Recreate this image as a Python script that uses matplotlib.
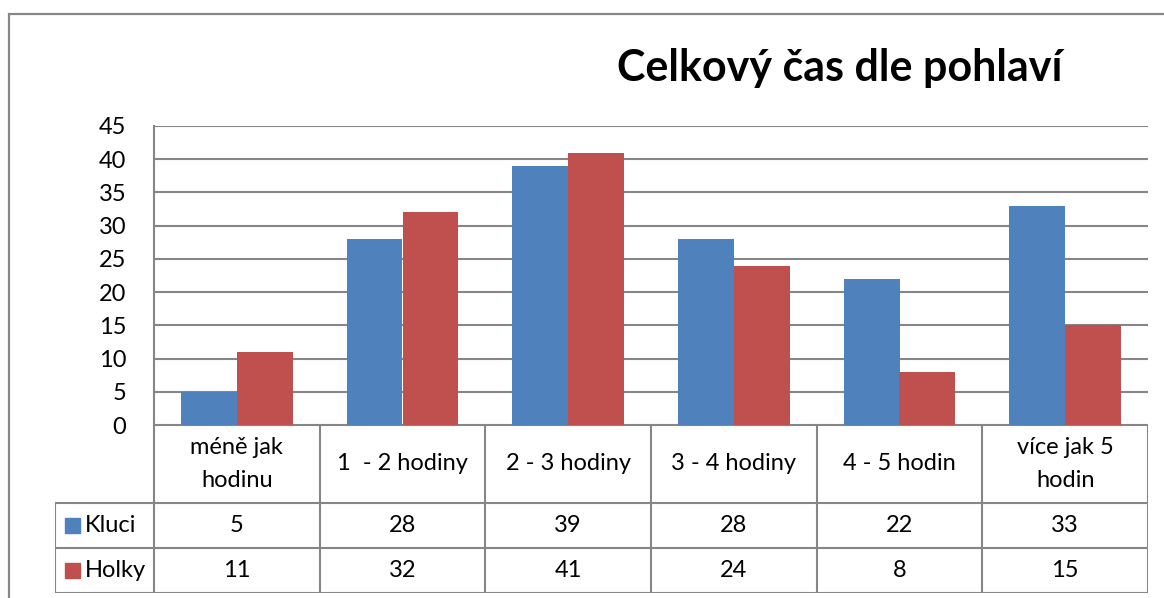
import matplotlib
matplotlib.use("Agg")
import matplotlib.pyplot as plt
from matplotlib.patches import Rectangle
import numpy as np

plt.rcParams["font.family"] = ["Lato", "DejaVu Sans"]

# data
categories = ["méně jak\nhodinu", "1  - 2 hodiny", "2 - 3 hodiny", "3 - 4 hodiny", "4 - 5 hodin", "více jak 5\nhodin"]
series_names = ["Kluci", "Holky"]
kluci = [5, 28, 39, 28, 22, 33]
holky = [11, 32, 41, 24, 8, 15]
yticks = [0, 5, 10, 15, 20, 25, 30, 35, 40, 45]

colors = ["#4F81BD", "#C0504D"]
grid_col = "#868686"
fs = 17

W, H = 1164, 598
fig = plt.figure(figsize=(W / 100, H / 100), dpi=100)


def px_box(x0, y0, x1, y1):
    return [x0 / W, 1 - y1 / H, (x1 - x0) / W, (y1 - y0) / H]


# outer chart border
fig.patches.append(Rectangle((9 / W, -0.1), 1.1, 1 - 14 / H + 0.1, transform=fig.transFigure,
                             fill=False, edgecolor=grid_col, linewidth=1.6))

ax = fig.add_axes(px_box(154, 126, 1148, 425))
x = np.arange(len(categories))
bw = 0.338
ax.bar(x - bw / 2, kluci, bw, color=colors[0], zorder=3)
ax.bar(x + bw / 2, holky, bw, color=colors[1], zorder=3)
ax.set_xlim(-0.5, len(categories) - 0.5)
ax.set_ylim(0, 45)
ax.set_yticks(yticks)
ax.set_yticklabels([str(t) for t in yticks], fontsize=fs)
ax.set_xticks([])
ax.tick_params(axis="y", length=0, pad=20)
ax.grid(axis="y", color=grid_col, linewidth=1.5, zorder=0)
for s in ["top", "right", "bottom"]:
    ax.spines[s].set_visible(False)
ax.spines["left"].set_color(grid_col)
ax.spines["left"].set_linewidth(1.5)

fig.text(840 / W, 1 - 68 / H, "Celkový čas dle pohlaví", fontsize=31, fontweight="bold",
         ha="center", va="center")

# data table below the plot
tx = fig.add_axes(px_box(55, 425, 1148, 593))
n = len(categories)
label_w = 99 / 165.67
tx.set_xlim(-0.5 - label_w, n - 0.5)
tx.set_ylim(168, 0)
tx.axis("off")
lw = 1.5
hdr = 78
row_h = 45
# header row
tx.plot([-0.5, n - 0.5], [0, 0], color=grid_col, lw=lw)
for i in range(n + 1):
    tx.plot([i - 0.5, i - 0.5], [0, hdr + 2 * row_h], color=grid_col, lw=lw)
for i, c in enumerate(categories):
    tx.text(i, hdr / 2, c, ha="center", va="center", fontsize=fs, linespacing=1.65)
# series rows
left = -0.5 - label_w
for r in range(3):
    yy = hdr + r * row_h
    tx.plot([left, n - 0.5], [yy, yy], color=grid_col, lw=lw)
tx.plot([left, left], [hdr, hdr + 2 * row_h], color=grid_col, lw=lw)
for r, (name, vals) in enumerate(zip(series_names, [kluci, holky])):
    yc = hdr + r * row_h + row_h / 2
    tx.add_patch(Rectangle((left + 0.06, yc - 7.5), 0.09, 15, color=colors[r], clip_on=False))
    tx.text(left + 0.18, yc, name, ha="left", va="center", fontsize=fs)
    for i, v in enumerate(vals):
        tx.text(i, yc, str(v), ha="center", va="center", fontsize=fs)

fig.savefig("out.png", dpi=100)
